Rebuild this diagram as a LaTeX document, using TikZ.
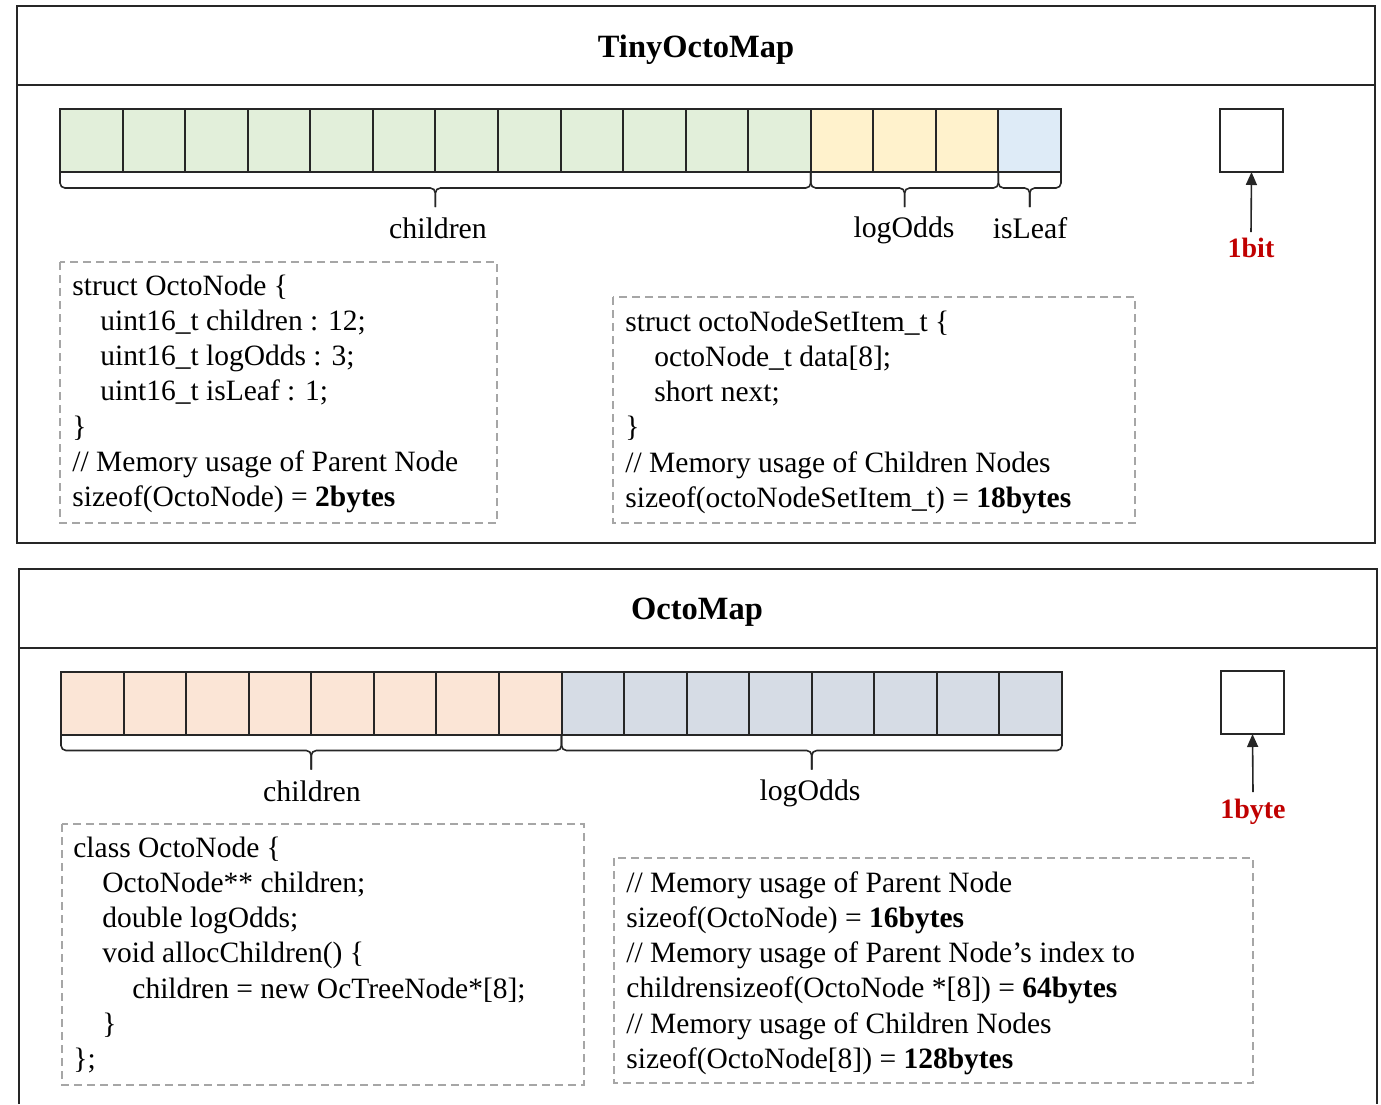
\documentclass[tikz,border=0pt]{standalone}
\usepackage{fontspec}
\setmainfont{Liberation Serif}
\usetikzlibrary{arrows.meta}
\definecolor{childgreen}{HTML}{E2EFDA}
\definecolor{oddsyellow}{HTML}{FFF2CC}
\definecolor{leafblue}{HTML}{DEEBF7}
\definecolor{ptrpeach}{HTML}{FBE5D6}
\definecolor{dblgrey}{HTML}{D6DCE5}
\definecolor{sizered}{HTML}{C00000}
\definecolor{dashgrey}{HTML}{A6A6A6}
\tikzset{
  panel/.style={draw=black!85, line width=1pt},
  cell/.style={draw=black!85, line width=1pt, minimum width=31.28pt, minimum height=31.5pt, inner sep=0pt, outer sep=0pt},
  unitbox/.style={draw=black!85, line width=1pt, fill=white, minimum width=31.5pt, minimum height=31.5pt, inner sep=0pt, outer sep=0pt},
  bracepath/.style={draw=black!85, line width=0.8pt, rounded corners=2.5pt},
  dashbox/.style={draw=dashgrey, line width=0.7pt, dash pattern=on 4pt off 2.5pt},
  code/.style={anchor=base west, inner sep=0pt, font=\fontsize{14.75}{17}\selectfont},
  fieldlbl/.style={anchor=base, inner sep=0pt, font=\fontsize{14.9}{17}\selectfont},
  title/.style={anchor=base, inner sep=0pt, font=\bfseries\fontsize{16.25}{19}\selectfont},
  sizelbl/.style={anchor=base, inner sep=0pt, text=sizered, font=\bfseries\fontsize{14}{17}\selectfont},
  sizearrow/.style={draw=black!85, line width=0.8pt, -{Triangle[length=6.5pt,width=5.5pt]}}
}
% half-bracket from x1 toward the tip at xm, hanging under the cells at y
\newcommand\halfbrace[3]{\path[bracepath] ({#1},{#3}) -- ({#1},{#3+16}) -- ({#2},{#3+16}) -- ({#2},{#3+35});}
\newcommand\membrace[3]{\halfbrace{#1}{(#1+#2)/2}{#3}\halfbrace{#2}{(#1+#2)/2}{#3}}
\begin{document}
\begin{tikzpicture}[x=0.5pt,y=-0.5pt]
\useasboundingbox (0,0) rectangle (1381,1104);

% ---------------- TinyOctoMap ----------------
\draw[panel] (17,6) rectangle (1375,543);
\draw[panel] (17,85) -- (1375,85);
\node[title] (ttitle) at (696,57) {TinyOctoMap};

\foreach \i in {0,...,11}
  \node[cell, fill=childgreen] (tc\i) at ({60+62.5625*(\i+0.5)},140.5) {};
\foreach \i in {12,13,14}
  \node[cell, fill=oddsyellow] (tc\i) at ({60+62.5625*(\i+0.5)},140.5) {};
\node[cell, fill=leafblue] (tc15) at ({60+62.5625*15.5},140.5) {};

\membrace{60}{810.75}{172}
\membrace{810.75}{998.4}{172}
\membrace{998.4}{1061}{172}
\node[fieldlbl] (tchild) at (438,238) {children};
\node[fieldlbl] (todds) at (904,237) {logOdds};
\node[fieldlbl] (tleaf) at (1030,238) {isLeaf};

\node[unitbox] (bitbox) at (1251.5,140.5) {};
\node[sizelbl] (bitlbl) at (1251,257) {1bit};
\draw[sizearrow] ([yshift=2.5pt]bitlbl.north) -- (bitbox.south);

\draw[dashbox] (60,262) rectangle (497,523);
\node[code] (a1) at (72,295) {struct OctoNode \{};
\node[code] (a2) at (100,330.3) {uint16\_t children : 12;};
\node[code] (a3) at (100,365.6) {uint16\_t logOdds : 3;};
\node[code] (a4) at (100,400.9) {uint16\_t isLeaf : 1;};
\node[code] (a5) at (72,436.2) {\}};
\node[code] (a6) at (72,471.5) {// Memory usage of Parent Node};
\node[code] (a7) at (72,506.8) {sizeof(OctoNode) = \textbf{2bytes}};

\draw[dashbox] (613,297) rectangle (1135,523);
\node[code] (b1) at (625,331) {struct octoNodeSetItem\_t \{};
\node[code] (b2) at (654,366.3) {octoNode\_t data[8];};
\node[code] (b3) at (654,401.6) {short next;};
\node[code] (b4) at (625,436.9) {\}};
\node[code] (b5) at (625,472.2) {// Memory usage of Children Nodes};
\node[code] (b6) at (625,507.5) {sizeof(octoNodeSetItem\_t) = \textbf{18bytes}};

% ---------------- OctoMap ----------------
\draw[panel] (19,1104) -- (19,569) -- (1377,569) -- (1377,1104);
\draw[panel] (19,648) -- (1377,648);
\node[title] (otitle) at (697,619) {OctoMap};

\foreach \i in {0,...,7}
  \node[cell, fill=ptrpeach] (oc\i) at ({61+62.5625*(\i+0.5)},703) {};
\foreach \i in {8,...,15}
  \node[cell, fill=dblgrey] (oc\i) at ({61+62.5625*(\i+0.5)},703) {};

\membrace{61}{561.5}{734.5}
\membrace{561.5}{1062}{734.5}
\node[fieldlbl] (ochild) at (312,801) {children};
\node[fieldlbl] (oodds) at (810,800) {logOdds};

\node[unitbox] (bytebox) at (1252.5,702.5) {};
\node[sizelbl] (bytelbl) at (1253,818) {1byte};
\draw[sizearrow] ([yshift=3pt]bytelbl.north) -- (bytebox.south);

\draw[dashbox] (62,824) rectangle (584,1085);
\node[code] (c1) at (73,857) {class OctoNode \{};
\node[code] (c2) at (102,892.3) {OctoNode** children;};
\node[code] (c3) at (102,927.6) {double logOdds;};
\node[code] (c4) at (102,962.9) {void allocChildren() \{};
\node[code] (c5) at (132,998.2) {children = new OcTreeNode*[8];};
\node[code] (c6) at (102,1033.5) {\}};
\node[code] (c7) at (73,1068.8) {\};};

\draw[dashbox] (614,858) rectangle (1253,1083);
\node[code] (d1) at (626,892) {// Memory usage of Parent Node};
\node[code] (d2) at (626,927.3) {sizeof(OctoNode) = \textbf{16bytes}};
\node[code] (d3) at (626,962.6) {// Memory usage of Parent Node’s index to};
\node[code] (d4) at (626,997.9) {childrensizeof(OctoNode *[8]) = \textbf{64bytes}};
\node[code] (d5) at (626,1033.2) {// Memory usage of Children Nodes};
\node[code] (d6) at (626,1068.5) {sizeof(OctoNode[8]) = \textbf{128bytes}};
\end{tikzpicture}
\end{document}
